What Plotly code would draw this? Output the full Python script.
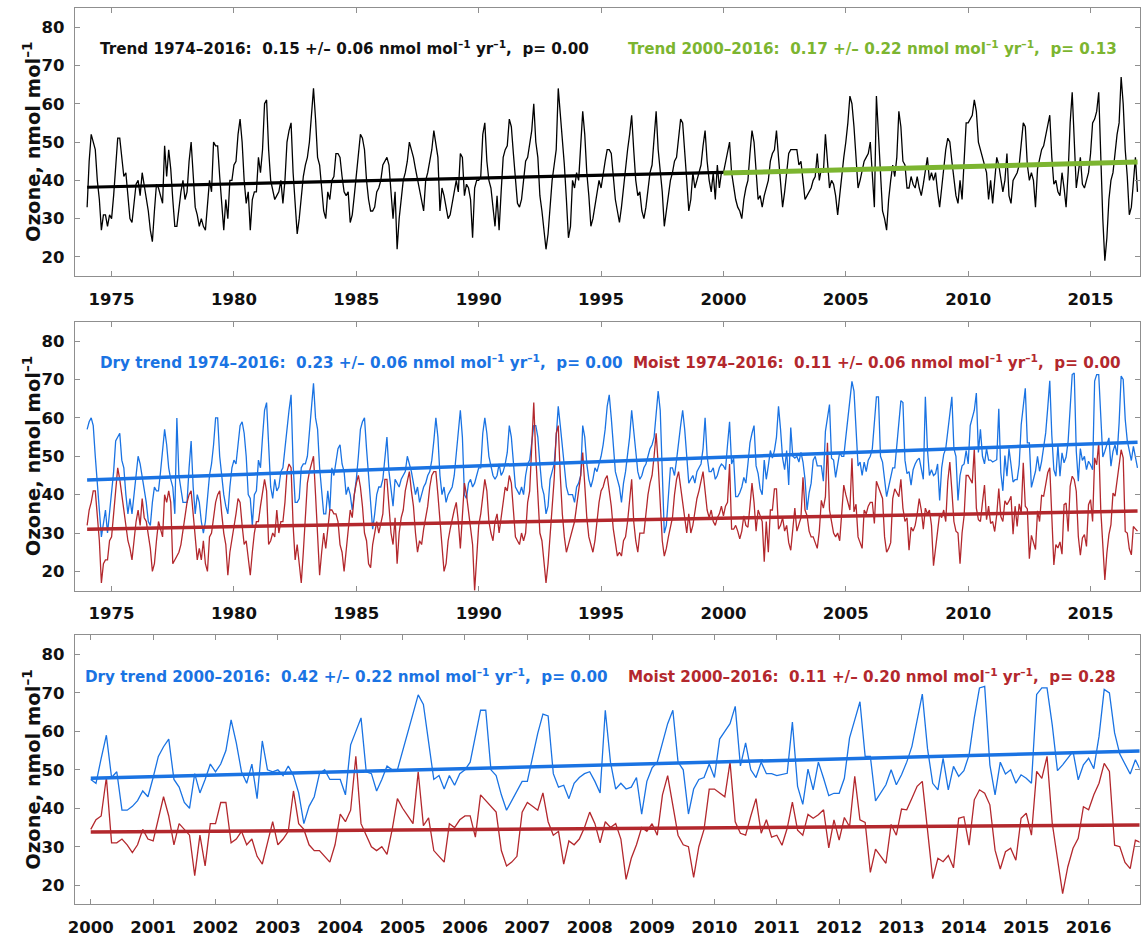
import plotly.graph_objects as go

# ---------------- data (monthly means, Jan..Dec for each year) ----------------
YEARS = list(range(1974, 2017))

TOTAL = [
    33, 45, 52, 50, 48, 40, 35, 27, 31, 31, 28, 31,   # 1974
    30, 36, 45, 51, 51, 45, 41, 42, 35, 30, 29, 35,   # 1975
    39, 40, 36, 42, 39, 36, 32, 27, 24, 32, 39, 38,   # 1976
    36, 34, 49, 41, 48, 43, 35, 28, 28, 33, 37, 40,   # 1977
    35, 37, 45, 50, 42, 33, 31, 28, 30, 28, 27, 34,   # 1978
    40, 37, 50, 49, 49, 41, 35, 27, 35, 30, 40, 40,   # 1979
    44, 45, 52, 56, 50, 40, 34, 37, 27, 35, 37, 37,   # 1980
    46, 42, 48, 60, 61, 48, 40, 37, 35, 36, 37, 40,   # 1981
    34, 40, 50, 53, 55, 42, 35, 26, 30, 35, 41, 44,   # 1982
    46, 50, 58, 64, 56, 46, 44, 38, 32, 30, 37, 35,   # 1983
    40, 41, 47, 47, 46, 41, 37, 36, 37, 29, 31, 36,   # 1984
    42, 47, 52, 51, 48, 40, 35, 32, 32, 33, 37, 38,   # 1985
    40, 44, 45, 46, 44, 38, 30, 37, 22, 30, 35, 40,   # 1986
    42, 45, 50, 48, 46, 43, 40, 37, 35, 32, 40, 42,   # 1987
    45, 48, 53, 50, 46, 32, 38, 36, 33, 30, 31, 34,   # 1988
    37, 40, 37, 47, 46, 36, 39, 38, 35, 25, 38, 40,   # 1989
    40, 41, 52, 55, 45, 40, 38, 33, 28, 36, 27, 37,   # 1990
    46, 48, 49, 56, 54, 47, 40, 34, 33, 35, 40, 45,   # 1991
    46, 50, 53, 60, 50, 46, 36, 32, 27, 22, 26, 33,   # 1992
    40, 44, 48, 64, 58, 52, 44, 35, 25, 28, 40, 38,   # 1993
    42, 40, 50, 58, 52, 42, 36, 28, 30, 33, 36, 40,   # 1994
    38, 42, 45, 48, 48, 47, 40, 35, 32, 29, 33, 38,   # 1995
    44, 48, 52, 57, 48, 40, 36, 37, 32, 30, 33, 38,   # 1996
    42, 44, 52, 58, 48, 42, 37, 28, 32, 36, 40, 42,   # 1997
    45, 46, 52, 56, 55, 46, 40, 32, 35, 42, 38, 40,   # 1998
    42, 44, 49, 53, 45, 40, 37, 42, 35, 44, 38, 42,   # 1999
    42, 45, 48, 50, 42, 38, 35, 33, 32, 30, 35, 38,   # 2000
    40, 47, 53, 50, 42, 35, 36, 33, 36, 38, 40, 45,   # 2001
    47, 48, 53, 46, 40, 33, 37, 43, 47, 48, 48, 48,   # 2002
    48, 44, 45, 40, 35, 36, 37, 38, 40, 41, 47, 40,   # 2003
    43, 42, 52, 45, 38, 40, 39, 36, 31, 36, 42, 46,   # 2004
    50, 55, 62, 60, 54, 47, 38, 40, 43, 45, 46, 47,   # 2005
    50, 40, 33, 62, 50, 42, 32, 30, 27, 35, 40, 44,   # 2006
    41, 46, 58, 54, 45, 44, 38, 38, 41, 39, 38, 41,   # 2007
    38, 36, 39, 43, 46, 40, 42, 40, 42, 37, 33, 38,   # 2008
    43, 48, 51, 50, 45, 40, 36, 34, 40, 35, 46, 55,   # 2009
    55, 56, 57, 61, 58, 50, 48, 46, 44, 42, 35, 40,   # 2010
    34, 40, 46, 44, 40, 37, 40, 47, 36, 34, 40, 41,   # 2011
    42, 44, 50, 55, 54, 44, 40, 42, 40, 33, 43, 46,   # 2012
    48, 49, 52, 55, 57, 46, 39, 40, 37, 36, 42, 38,   # 2013
    33, 42, 55, 63, 50, 38, 42, 46, 39, 38, 40, 42,   # 2014
    47, 55, 56, 58, 63, 46, 30, 19, 25, 35, 40, 42,   # 2015
    48, 52, 55, 67, 60, 48, 41, 31, 33, 40, 46, 37,   # 2016
]

DRY = [
    57, 59, 60, 58, 50, 42, 36, 29, 32, 36, 30, 35,   # 1974
    40, 46, 54, 55, 56, 49, 47, 40, 35, 39, 35, 40,   # 1975
    45, 50, 48, 45, 42, 38, 33, 32, 38, 42, 41, 41,   # 1976
    46, 52, 57, 53, 47, 44, 42, 35, 60, 45, 42, 38,   # 1977
    38, 38, 47, 54, 42, 35, 40, 38, 33, 30, 33, 40,   # 1978
    45, 48, 53, 60, 60, 50, 44, 40, 37, 35, 42, 47,   # 1979
    49, 48, 53, 58, 59, 56, 50, 40, 39, 32, 40, 41,   # 1980
    49, 47, 55, 62, 64, 52, 42, 39, 44, 41, 42, 46,   # 1981
    47, 52, 58, 62, 66, 48, 38, 38, 39, 47, 48, 48,   # 1982
    50, 56, 62, 69, 60, 57, 47, 41, 35, 35, 41, 36,   # 1983
    47, 45, 48, 52, 53, 48, 46, 40, 42, 40, 36, 40,   # 1984
    44, 50, 57, 59, 60, 52, 45, 38, 31, 35, 40, 42,   # 1985
    42, 44, 50, 55, 46, 42, 37, 44, 43, 42, 44, 45,   # 1986
    46, 50, 48, 46, 43, 40, 42, 38, 40, 42, 43, 45,   # 1987
    46, 49, 54, 60, 55, 45, 40, 42, 38, 40, 41, 42,   # 1988
    45, 51, 57, 62, 55, 40, 39, 43, 44, 42, 43, 45,   # 1989
    47, 47, 56, 60, 56, 50, 47, 45, 44, 45, 48, 45,   # 1990
    46, 48, 51, 58, 55, 48, 42, 41, 40, 42, 40, 45,   # 1991
    48, 49, 53, 58, 58, 55, 48, 42, 40, 35, 37, 44,   # 1992
    46, 48, 55, 63, 58, 52, 46, 42, 40, 40, 40, 38,   # 1993
    42, 43, 45, 58, 55, 48, 44, 42, 44, 47, 46, 48,   # 1994
    50, 53, 57, 63, 66, 60, 53, 46, 44, 42, 38, 43,   # 1995
    46, 50, 55, 62, 57, 52, 46, 44, 45, 47, 48, 50,   # 1996
    52, 53, 55, 61, 67, 62, 48, 30, 32, 39, 47, 47,   # 1997
    45, 49, 54, 58, 62, 57, 50, 43, 44, 45, 43, 46,   # 1998
    47, 48, 52, 60, 50, 46, 46, 47, 44, 45, 47, 48,   # 1999
    47.5, 46.5, 53, 59, 48, 49.5, 39.5, 39.5, 40.5, 42, 44.5, 43,        # 2000
    48, 53.5, 56, 58, 47.5, 45.5, 41.5, 40, 49, 44, 47.5, 51.5,          # 2001
    49.5, 51.5, 55, 63, 57, 49.5, 46.5, 51.5, 42.5, 57.5, 50, 49.5,      # 2002
    50, 48.5, 51, 48.5, 44, 36, 40.5, 43, 49, 50, 47.5, 47.5,            # 2003
    47.5, 43.5, 56.5, 60, 63.5, 49.5, 49, 44.5, 47.5, 51, 50, 50,        # 2004
    55, 60, 65, 69.5, 67, 57, 47.5, 48.5, 45, 48.5, 46, 49,              # 2005
    50, 52, 59, 65.5, 65.5, 50, 48.5, 43.5, 39.5, 42, 44.5, 47,          # 2006
    47, 53.5, 59.5, 64.5, 64, 49, 45.5, 46, 42.5, 46.5, 48, 49,          # 2007
    49.5, 47, 44, 65.5, 52, 45, 46.5, 45, 45.5, 48, 38.5, 47,            # 2008
    50.5, 52, 57, 62, 65.5, 52, 50, 38.5, 45, 47.5, 48, 51.5,            # 2009
    48, 58, 60, 62, 66.5, 51, 57, 50, 48, 52, 49, 49,                    # 2010
    48.5, 48.9, 49.1, 62.4, 45.7, 41, 50.2, 44.8, 52, 47.8, 43.3, 43.9,  # 2011
    43.9, 47.8, 58.3, 63, 67.7, 53.5, 53.5, 41.9, 43.9, 46.1, 50, 46.1,  # 2012
    48.7, 52, 56.1, 62.6, 69.7, 55.5, 46.5, 44.8, 53, 44.8, 50.9, 48.3,  # 2013
    49.8, 53.9, 63.5, 71.3, 71.7, 51.3, 43.5, 52, 48.9, 50, 46.5, 48.7,  # 2014
    47.8, 46.5, 69.6, 71.3, 71.3, 61.7, 49.8, 51.3, 53, 54.8, 47.4, 51.3,# 2015
    53, 50.3, 58.7, 70.9, 70, 59.6, 54.1, 51.3, 48.9, 52.6, 49.8, 47,    # 2016
]

MOIST = [
    32, 36, 38, 41, 41, 35, 28, 17, 22, 23, 23, 28,   # 1974
    29, 35, 42, 47, 44, 40, 36, 33, 28, 26, 23, 28,   # 1975
    33, 36, 32, 39, 34, 33, 30, 26, 20, 22, 28, 33,   # 1976
    31, 29, 40, 38, 41, 38, 22, 23, 24, 25, 27, 31,   # 1977
    34, 38, 40, 41, 35, 29, 23, 26, 23, 28, 22, 20,   # 1978
    29, 30, 34, 38, 40, 41, 35, 30, 27, 19, 25, 28,   # 1979
    32, 35, 39, 38, 32, 27, 28, 24, 19, 25, 30, 33,   # 1980
    33, 37, 40, 44, 41, 27, 28, 30, 29, 36, 30, 33,   # 1981
    33, 38, 46, 48, 47, 32, 23, 27, 22, 17, 25, 36,   # 1982
    43, 46, 48, 50, 40, 30, 19, 25, 30, 26, 31, 36,   # 1983
    36, 35, 35, 33, 27, 25, 20, 25, 30, 36, 34, 40,   # 1984
    43, 45, 42, 37, 30, 28, 22, 21, 27, 30, 33, 30,   # 1985
    33, 35, 44, 44, 37, 30, 27, 34, 22, 30, 34, 36,   # 1986
    41, 44, 46, 41, 37, 30, 25, 28, 27, 31, 34, 37,   # 1987
    42, 45, 46, 46, 40, 33, 27, 20, 22, 28, 31, 34,   # 1988
    36, 38, 33, 26, 34, 43, 40, 36, 31, 27, 15, 24,   # 1989
    32, 35, 40, 44, 41, 33, 30, 28, 33, 35, 30, 34,   # 1990
    38, 42, 41, 45, 43, 36, 29, 28, 27, 30, 28, 30,   # 1991
    38, 41, 52, 64, 50, 38, 30, 28, 22, 17, 22, 30,   # 1992
    38, 44, 56, 58, 45, 35, 29, 25, 27, 29, 31, 33,   # 1993
    37, 41, 45, 51, 42, 34, 29, 27, 25, 28, 34, 38,   # 1994
    41, 42, 44, 45, 41, 37, 31, 27, 24, 25, 24, 28,   # 1995
    29, 33, 38, 44, 33, 28, 25, 30, 30, 30, 35, 40,   # 1996
    43, 45, 50, 56, 48, 36, 28, 24, 26, 29, 32, 34,   # 1997
    40, 44, 46, 42, 38, 34, 30, 35, 30, 32, 36, 39,   # 1998
    41, 44, 46, 41, 36, 34, 36, 33, 32, 34, 35, 37,   # 1999
    34.5, 37, 38, 48, 31, 31, 32, 30.5, 28.5, 30.5, 34.5, 32,            # 2000
    31.5, 37, 43, 38, 30.5, 36, 34.5, 33, 22.5, 33, 25, 36,              # 2001
    36, 41.5, 41.5, 31, 32, 34, 30.5, 32, 27.5, 25.5, 31, 36.5,          # 2002
    30.5, 32, 34, 44.5, 36, 34.5, 30.5, 29, 29, 27.5, 26, 30.5,          # 2003
    38.5, 36.5, 39.5, 53.5, 36, 33, 30, 29, 30, 28, 34.5, 42.5,          # 2004
    40, 38, 36, 49.5, 35.5, 37.5, 29, 27.5, 26, 36, 35, 37,              # 2005
    38, 38, 32.5, 43.5, 42, 40.5, 39, 29, 25, 26, 27.5, 39,              # 2006
    41.5, 40.5, 39.5, 44, 36.5, 33, 34, 25.5, 31.5, 30.5, 32, 35,        # 2007
    39, 36, 31, 36.5, 35, 36, 32, 21.5, 27, 30.5, 35, 34,                # 2008
    36, 33, 43.5, 48.5, 41, 33, 30.5, 30, 22, 30, 34.5, 45,              # 2009
    45, 44, 43, 52, 36.5, 33.5, 33, 38, 42.5, 33.5, 37, 32.5,            # 2010
    33, 30.4, 34.8, 41.6, 34.3, 33, 38.4, 37.4, 38.3, 39.6, 29.7, 37,    # 2011
    31.7, 37.6, 35.2, 48.3, 37, 36.3, 23.3, 29.4, 27.7, 25.7, 35.8, 33,  # 2012
    39.8, 39.6, 42.6, 45.7, 47, 34.3, 21.7, 27, 26.1, 27.7, 24.5, 37.4,  # 2013
    37.8, 30.4, 42.2, 44.8, 43.9, 40.9, 29.1, 24.2, 28.7, 29.6, 26.5, 37.4,  # 2014
    38.7, 33, 49.6, 47.8, 53.5, 36.1, 27.4, 17.8, 24.8, 29.6, 32.2, 40.4,    # 2015
    39.6, 43.5, 46.5, 51.7, 49.6, 30.4, 30, 25.9, 24.3, 31.7, 31.1, 30.5,    # 2016
]

# trend lines: (start year, end year, value at start, slope per year)
TREND_ALL_7416 = (1974.0, 2000.0, 38.2, 0.15)
TREND_ALL_0016 = (2000.0, 2016.92, 41.9, 0.17)
TREND_DRY_7416 = (1974.0, 2016.92, 43.8, 0.23)
TREND_MOIST_7416 = (1974.0, 2016.92, 31.0, 0.11)
TREND_DRY_0016 = (2000.0, 2016.92, 47.8, 0.42)
TREND_MOIST_0016 = (2000.0, 2016.92, 33.8, 0.11)

LABELS = {
    "all_7416": "Trend 1974\u20132016:\u00a0 0.15 +/\u2013 0.06 nmol mol<sup>\u20131</sup> yr<sup>\u20131</sup>,\u00a0 p= 0.00",
    "all_0016": "Trend 2000\u20132016:\u00a0 0.17 +/\u2013 0.22 nmol mol<sup>\u20131</sup> yr<sup>\u20131</sup>,\u00a0 p= 0.13",
    "dry_7416": "Dry trend 1974\u20132016:\u00a0 0.23 +/\u2013 0.06 nmol mol<sup>\u20131</sup> yr<sup>\u20131</sup>,\u00a0 p= 0.00",
    "moist_7416": "Moist 1974\u20132016:\u00a0 0.11 +/\u2013 0.06 nmol mol<sup>\u20131</sup> yr<sup>\u20131</sup>,\u00a0 p= 0.00",
    "dry_0016": "Dry trend 2000\u20132016:\u00a0 0.42 +/\u2013 0.22 nmol mol<sup>\u20131</sup> yr<sup>\u20131</sup>,\u00a0 p= 0.00",
    "moist_0016": "Moist 2000\u20132016:\u00a0 0.11 +/\u2013 0.20 nmol mol<sup>\u20131</sup> yr<sup>\u20131</sup>,\u00a0 p= 0.28",
}
Y_TITLE = "Ozone, nmol mol<sup>\u20131</sup>"

# ---------------- derived ----------------
T = [y + m / 12.0 for y in YEARS for m in range(12)]
i2000 = T.index(2000.0)
T00 = T[i2000:]


def trend_xy(tr):
    t0, t1, v0, s = tr
    return [t0, t1], [v0, v0 + s * (t1 - t0)]


BLACK = "#000000"
GREEN = "#7cb530"
BLUE = "#1a73e3"
RED = "#b3282d"
FRAME = "#8f8f8f"
FONT = "DejaVu Sans"

fig = go.Figure()

# panel 1
fig.add_trace(go.Scatter(x=T, y=TOTAL, mode="lines", line=dict(color=BLACK, width=1.3),
                         xaxis="x", yaxis="y", showlegend=False))
x, y = trend_xy(TREND_ALL_7416)
fig.add_trace(go.Scatter(x=x, y=y, mode="lines", line=dict(color=BLACK, width=3.2),
                         xaxis="x", yaxis="y", showlegend=False))
x, y = trend_xy(TREND_ALL_0016)
fig.add_trace(go.Scatter(x=x, y=y, mode="lines", line=dict(color=GREEN, width=5),
                         xaxis="x", yaxis="y", showlegend=False))

# panel 2
fig.add_trace(go.Scatter(x=T, y=DRY, mode="lines", line=dict(color=BLUE, width=1.3),
                         xaxis="x2", yaxis="y2", showlegend=False))
fig.add_trace(go.Scatter(x=T, y=MOIST, mode="lines", line=dict(color=RED, width=1.3),
                         xaxis="x2", yaxis="y2", showlegend=False))
x, y = trend_xy(TREND_DRY_7416)
fig.add_trace(go.Scatter(x=x, y=y, mode="lines", line=dict(color=BLUE, width=3.5),
                         xaxis="x2", yaxis="y2", showlegend=False))
x, y = trend_xy(TREND_MOIST_7416)
fig.add_trace(go.Scatter(x=x, y=y, mode="lines", line=dict(color=RED, width=3.5),
                         xaxis="x2", yaxis="y2", showlegend=False))

# panel 3
fig.add_trace(go.Scatter(x=T00, y=DRY[i2000:], mode="lines", line=dict(color=BLUE, width=1.3),
                         xaxis="x3", yaxis="y3", showlegend=False))
fig.add_trace(go.Scatter(x=T00, y=MOIST[i2000:], mode="lines", line=dict(color=RED, width=1.3),
                         xaxis="x3", yaxis="y3", showlegend=False))
x, y = trend_xy(TREND_DRY_0016)
fig.add_trace(go.Scatter(x=x, y=y, mode="lines", line=dict(color=BLUE, width=3.5),
                         xaxis="x3", yaxis="y3", showlegend=False))
x, y = trend_xy(TREND_MOIST_0016)
fig.add_trace(go.Scatter(x=x, y=y, mode="lines", line=dict(color=RED, width=3.5),
                         xaxis="x3", yaxis="y3", showlegend=False))

W, H = 1141, 937
XD = [68.3 / W, 1139.5 / W]


def ydom(top, bottom):
    return [1 - bottom / H, 1 - top / H]


tickfont = dict(family=FONT, size=16.5, color="#111111", weight="bold")
common = dict(showline=True, linecolor=FRAME, linewidth=1, mirror="ticks",
              ticks="inside", ticklen=5, tickcolor=FRAME, showgrid=False,
              zeroline=False, tickfont=tickfont)

yax = dict(common, range=[15, 85], tickvals=[20, 30, 40, 50, 60, 70, 80],
           ticklabelstandoff=6)
xlong = dict(common, range=[1973.5, 2017.0], tickvals=[1975, 1980, 1985, 1990, 1995, 2000, 2005, 2010, 2015],
             ticklabelstandoff=8)
xshort = dict(common, range=[1999.745, 2016.816], tickvals=list(range(2000, 2017)),
              ticklabelstandoff=8)

D1 = ydom(8, 277)
D2 = ydom(323, 592.5)
D3 = ydom(637.3, 907.3)

fig.update_layout(
    width=W, height=H, margin=dict(l=0, r=0, t=0, b=0),
    paper_bgcolor="white", plot_bgcolor="white",
    xaxis=dict(xlong, domain=XD, anchor="y"),
    yaxis=dict(yax, domain=D1, anchor="x"),
    xaxis2=dict(xlong, domain=XD, anchor="y2"),
    yaxis2=dict(yax, domain=D2, anchor="x2"),
    xaxis3=dict(xshort, domain=XD, anchor="y3"),
    yaxis3=dict(yax, domain=D3, anchor="x3"),
)

afont = dict(family=FONT, size=15.2, weight="bold")
ann = []


def add_label(key, xfrac, xref, yref, color):
    ann.append(dict(text=LABELS[key], x=xfrac, y=74.5, xref=xref, yref=yref,
                    xanchor="left", yanchor="middle", showarrow=False,
                    font=dict(afont, color=color)))


add_label("all_7416", 0.0215, "x domain", "y", "#111111")
add_label("all_0016", 0.5172, "x domain", "y", GREEN)
add_label("dry_7416", 0.0215, "x2 domain", "y2", BLUE)
add_label("moist_7416", 0.5223, "x2 domain", "y2", RED)
add_label("dry_0016", 0.0075, "x3 domain", "y3", BLUE)
add_label("moist_0016", 0.5173, "x3 domain", "y3", RED)

for d in (D1, D2, D3):
    ann.append(dict(text=Y_TITLE, x=25 / W, y=(d[0] + d[1]) / 2, xref="paper", yref="paper",
                    xanchor="center", yanchor="middle", textangle=-90, showarrow=False,
                    font=dict(family=FONT, size=19.5, color="#111111", weight="bold")))

fig.update_layout(annotations=ann)
fig.write_html("out.html")
